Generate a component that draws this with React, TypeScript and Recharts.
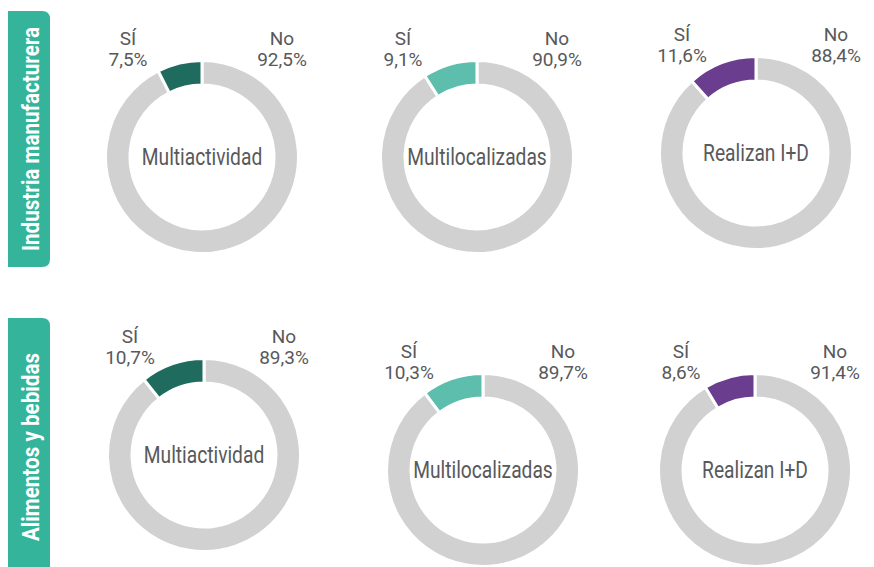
import { PieChart, Pie, Cell } from 'recharts';

const BAND_LABELS = ['Industria manufacturera', 'Alimentos y bebidas'];
const INDICATORS = ['Multiactividad', 'Multilocalizadas', 'Realizan I+D'];
const SLICE_NAMES = ['No', 'SÍ'];

// porcentaje de empresas, por indicador
const siManufactura = [7.5, 9.1, 11.6];
const noManufactura = [92.5, 90.9, 88.4];
const siAlimentos = [10.7, 10.3, 8.6];
const noAlimentos = [89.3, 89.7, 91.4];

const ROWS = [
  { si: siManufactura, no: noManufactura },
  { si: siAlimentos, no: noAlimentos },
];

// centros de cada anillo (layout, no datos)
const CENTERS: [number, number][][] = [
  [[202, 157], [477, 157], [756, 153]],
  [[204, 455], [483, 470], [755, 470]],
];

const ACCENTS = ['#1f6b5e', '#5ebead', '#6b3d8f'];
const GRAY = '#d1d1d1';
const TEXT = '#58595b';
const BAND = '#34b59b';
const FONT = 'Roboto, "Liberation Sans", sans-serif';

const fmt = (v: number) => v.toFixed(1).replace('.', ',') + '%';

function makeLabel(title: string) {
  return (props: any) => {
    const { cx, cy, index, name, value } = props;
    const dx = index === 1 ? -74 : 80;
    return (
      <g>
        <text x={cx + dx} y={cy - 119} textAnchor="middle" dominantBaseline="central" fill={TEXT} fontSize={19} fontFamily={FONT}>
          {name}
        </text>
        <text x={cx + dx} y={cy - 98} textAnchor="middle" dominantBaseline="central" fill={TEXT} fontSize={19} fontFamily={FONT}>
          {fmt(value)}
        </text>
        {index === 0 && (
          <g transform={`translate(${cx},${cy}) scale(0.8,1)`}>
            <text x={0} y={0} textAnchor="middle" dominantBaseline="central" fill={TEXT} fontSize={24} fontFamily={FONT}>
              {title}
            </text>
          </g>
        )}
      </g>
    );
  };
}

function bandPath(x: number, y: number, w: number, h: number, r: number) {
  return `M${x},${y} H${x + w - r} Q${x + w},${y} ${x + w},${y + r} V${y + h - r} Q${x + w},${y + h} ${x + w - r},${y + h} H${x} Z`;
}

const BANDS = [
  { y: 11, h: 256 },
  { y: 318, h: 262 },
];

export default function App() {
  return (
    <div style={{ position: 'absolute', left: 0, top: 0, width: 874, height: 567, background: '#fff', overflow: 'hidden' }}>
      <svg width={874} height={567} style={{ position: 'absolute', left: 0, top: 0 }}>
        {BANDS.map((b, i) => (
          <g key={i}>
            <path d={bandPath(8, b.y, 42, b.h, 8)} fill={BAND} />
            <g transform={`translate(30,${i === 0 ? 139 : 447}) rotate(-90) scale(0.86,1)`}>
              <text x={0} y={0} textAnchor="middle" dominantBaseline="central" fill="#fff" fontSize={24} fontWeight={700} fontFamily={FONT}>
                {BAND_LABELS[i]}
              </text>
            </g>
          </g>
        ))}
      </svg>
      <div style={{ position: 'absolute', left: 0, top: 0 }}>
        <PieChart width={874} height={567} margin={{ top: 0, right: 0, bottom: 0, left: 0 }}>
          {ROWS.map((row, r) =>
            INDICATORS.map((title, c) => {
              const data = [
                { name: SLICE_NAMES[0], value: row.no[c] },
                { name: SLICE_NAMES[1], value: row.si[c] },
              ];
              return (
                <Pie
                  key={`${r}-${c}`}
                  data={data}
                  dataKey="value"
                  nameKey="name"
                  cx={CENTERS[r][c][0]}
                  cy={CENTERS[r][c][1]}
                  innerRadius={72}
                  outerRadius={96.5}
                  startAngle={90}
                  endAngle={-270}
                  stroke="#fff"
                  strokeWidth={3}
                  label={makeLabel(title)}
                  labelLine={false}
                  isAnimationActive={false}
                >
                  <Cell fill={GRAY} />
                  <Cell fill={ACCENTS[c]} />
                </Pie>
              );
            })
          )}
        </PieChart>
      </div>
    </div>
  );
}
